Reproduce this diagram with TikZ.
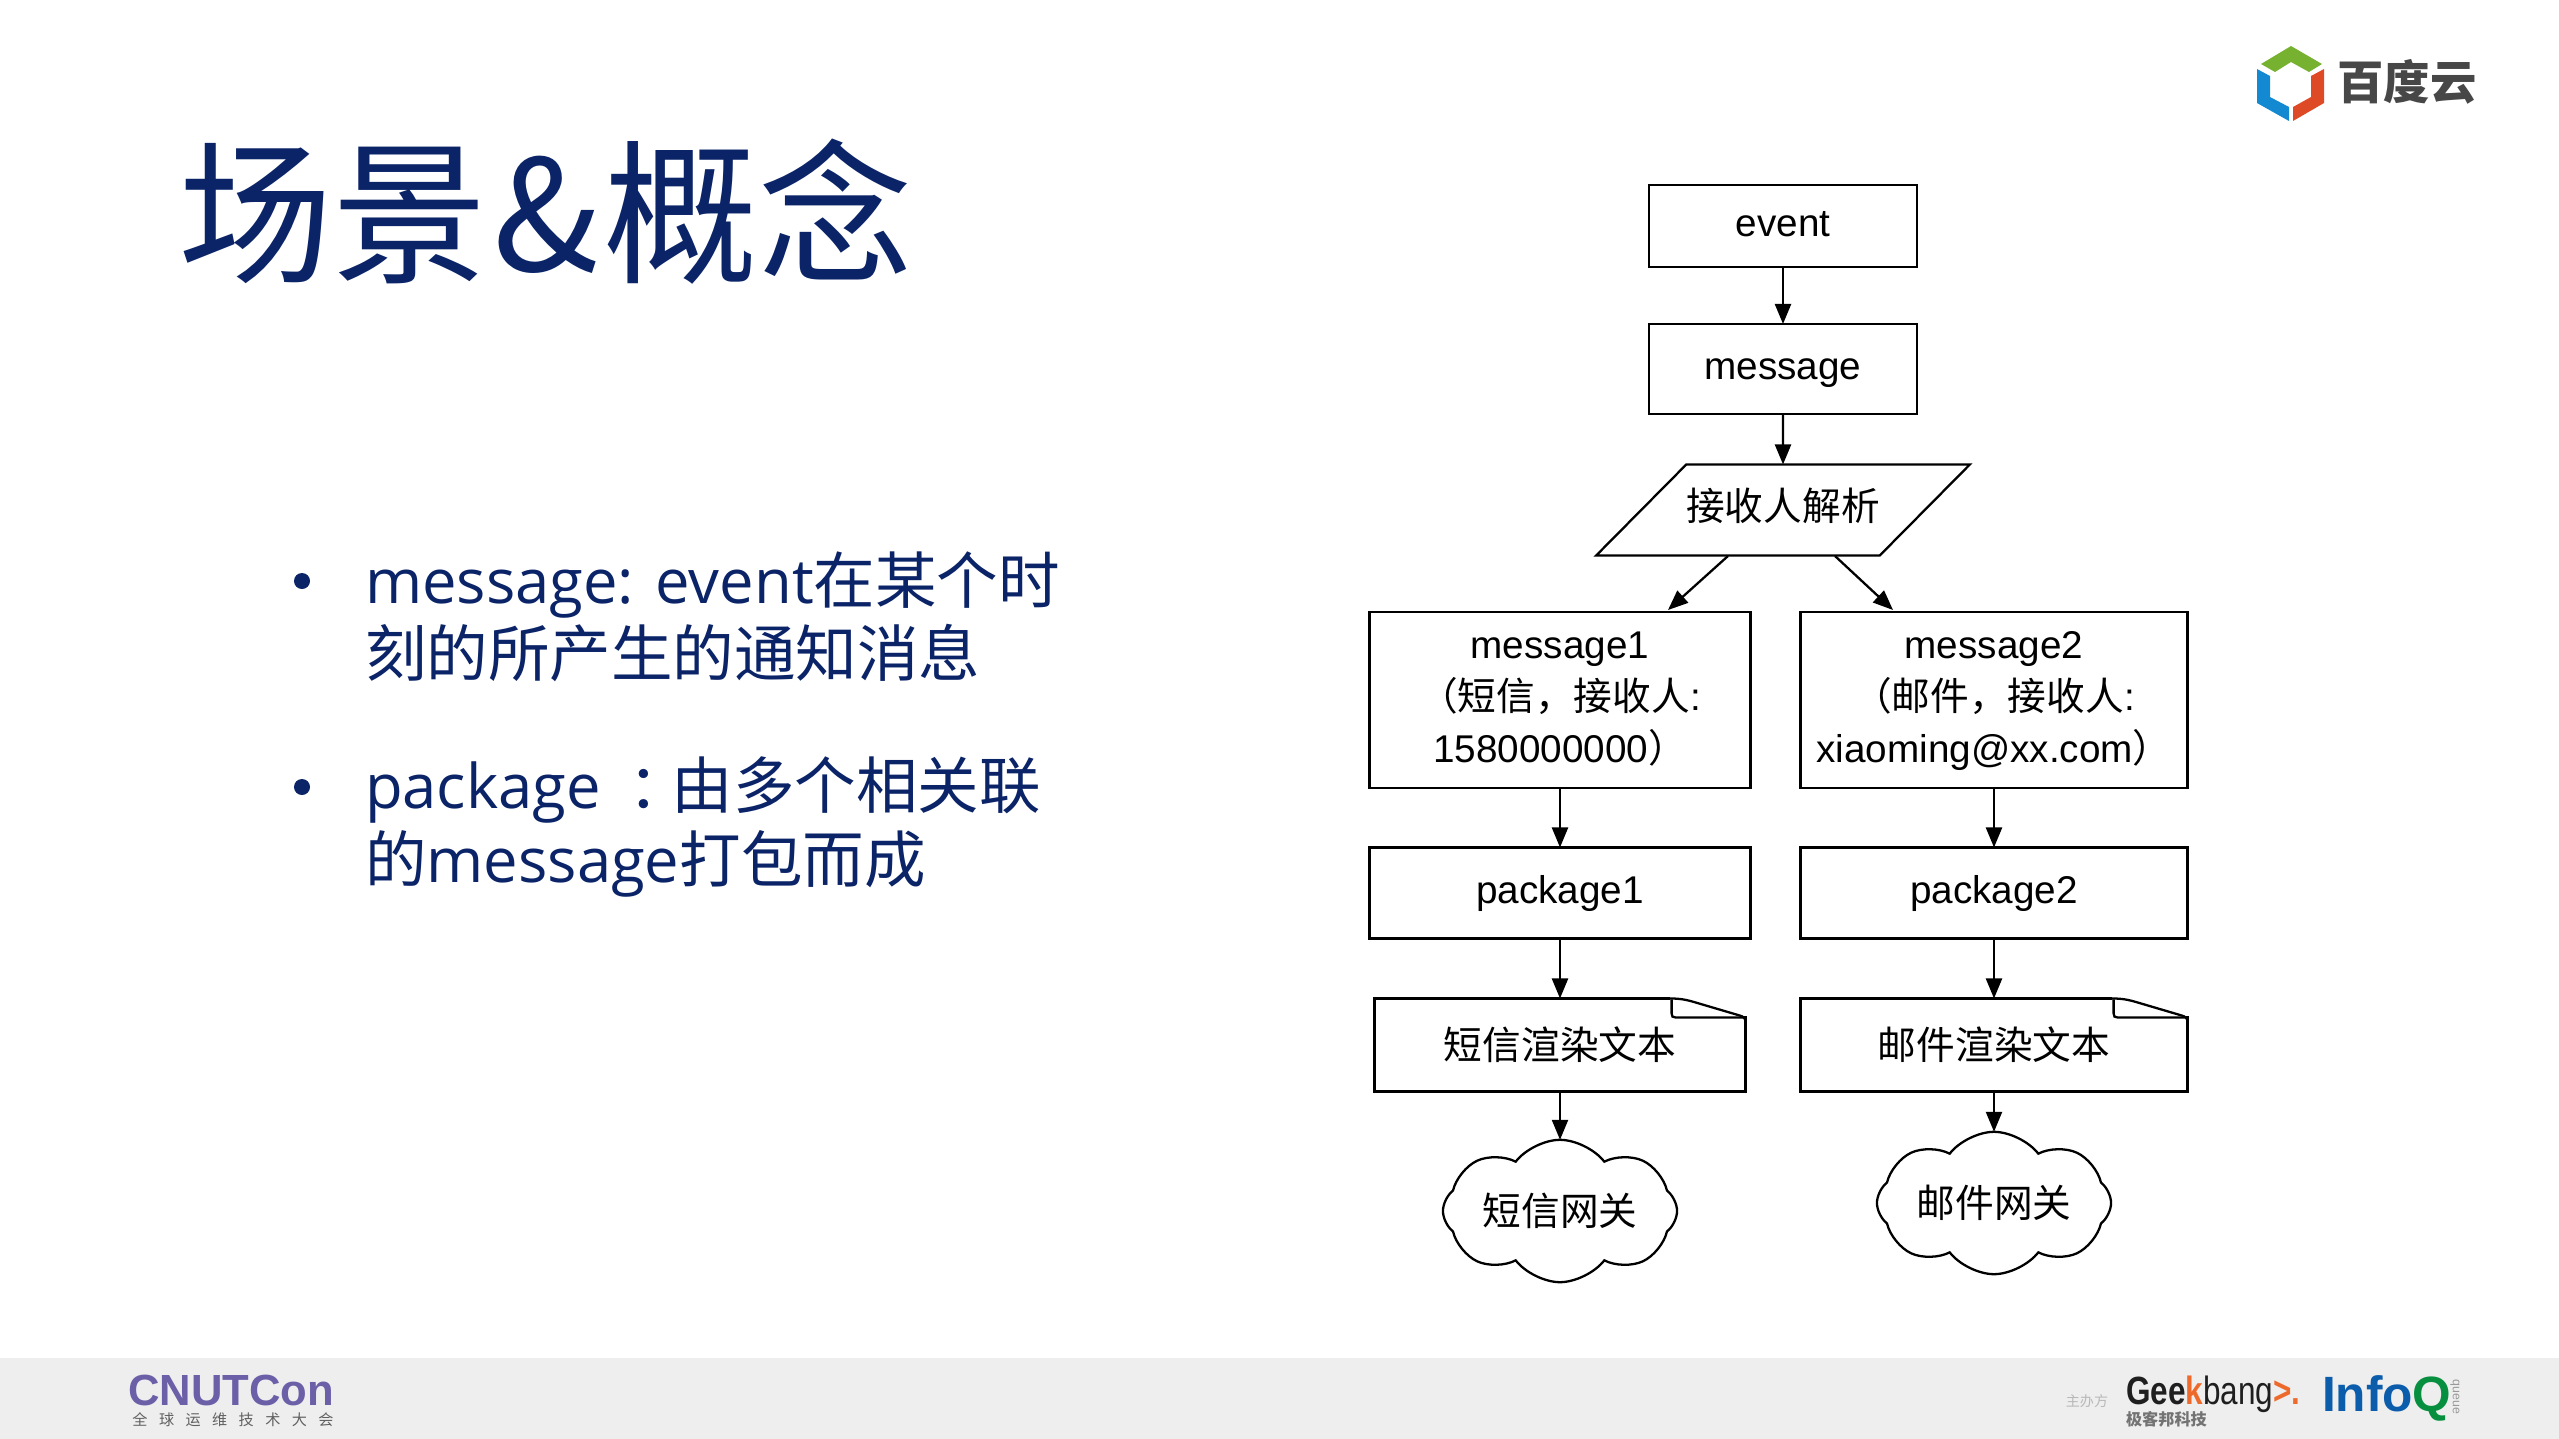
\documentclass[tikz,border=0pt]{standalone}
\usepackage{fontspec}
\setmainfont{Noto Sans CJK SC}
\newfontfamily\helv{Liberation Sans}
\newfontfamily\opensans{Open Sans}
\usetikzlibrary{arrows.meta,shapes.geometric,shapes.symbols}
\definecolor{slidenavy}{HTML}{0B2468}
\definecolor{barfill}{HTML}{EEEEEE}
\definecolor{logogreen}{HTML}{76B12F}
\definecolor{logoblue}{HTML}{1289D0}
\definecolor{logored}{HTML}{DE4A26}
\definecolor{cnutpurple}{HTML}{6B5FA8}
\definecolor{geekorange}{HTML}{EE6A2B}
\definecolor{infoblue}{HTML}{0B5CAB}
\definecolor{infogreen}{HTML}{078F40}
\tikzset{
	every node/.style={inner sep=0pt,outer sep=0pt},
	chartbox/.style={draw,line width=0.65pt,fill=white,font=\fontsize{11}{14.8}\selectfont,align=center},
	leftbox/.style={chartbox,minimum width=3.81cm},
	rightbox/.style={chartbox,minimum width=3.87cm},
	gateway/.style={cloud,draw,line width=0.65pt,cloud puffs=8,cloud puff arc=105,aspect=2,
		minimum width=2.34cm,minimum height=1.08cm,font=\fontsize{11}{14.8}\selectfont},
	flow/.style={line width=0.65pt,-{Triangle[length=0.2cm,width=0.16cm]}},
	bulletdot/.style={circle,fill=slidenavy,minimum size=0.16cm},
	bullettext/.style={anchor=west,align=left,text=slidenavy,font=\fontsize{17.5}{20.8}\selectfont}
}
\begin{document}
\begin{tikzpicture}[x=0.01cm,y=-0.01cm]
	\useasboundingbox (0,0) rectangle (2559,1439);
	\fill[barfill] (0,1358) rectangle (2559,1439);

	\node[anchor=west,text=slidenavy,font=\fontsize{44}{44}\selectfont] (title) at (178,212) {场景\hspace{1.6pt}\&\hspace{1.6pt}概念};

	\node[bulletdot] (dot1) at (302,581) {};
	\node[bullettext] (point1) at (365,617) {{\opensans message: event}在某个时\\刻的所产生的通知消息};
	\node[bulletdot] (dot2) at (302,787) {};
	\node[bullettext] (point2) at (365,827) {{\opensans package}\hspace{.45em}：\hspace{-.3em}由多个相关联\\的{\opensans message}打包而成};

	% flow chart
	\node[chartbox,minimum width=2.68cm,minimum height=0.82cm] (event) at (1783,226) {\helv\strut event};
	\node[chartbox,minimum width=2.68cm,minimum height=0.9cm] (message) at (1783,369) {\helv\strut message};
	\node[chartbox,trapezium,trapezium stretches=true,trapezium left angle=30,trapezium right angle=150,
		minimum width=3.59cm,minimum height=0.91cm] (receiver) at (1783,510) {\strut 接收人解析};

	\node[leftbox,minimum height=1.76cm] (message1) at (1560,700) {{\helv\strut message1}\\（短信，接收人{\helv :}\\{\helv 1580000000}）\strut};
	\node[rightbox,minimum height=1.76cm] (message2) at (1994,700) {{\helv\strut message2}\\（邮件，接收人{\helv :}\\{\helv xiaoming@xx.com}）\strut};
	\node[leftbox,minimum height=0.91cm] (package1) at (1560,893) {\helv\strut package1};
	\node[rightbox,minimum height=0.91cm] (package2) at (1994,893) {\helv\strut package2};
	\node[chartbox,minimum width=3.71cm,minimum height=0.93cm] (render1) at (1560,1045) {短信渲染文本};
	\node[rightbox,minimum height=0.93cm] (render2) at (1994,1045) {邮件渲染文本};
	\node[gateway] (gate1) at (1560,1211) {短信网关};
	\node[gateway,minimum height=1.23cm] (gate2) at (1994,1203) {邮件网关};

	% folded corners
	\foreach \docname in {render1,render2}{
		\fill[white,shift={(\docname.north east)}] (-76,-3) rectangle (3,18);
		\draw[line width=0.65pt,shift={(\docname.north east)}]
			(-90,0) -- (-76,0) .. controls (-66,0) and (-60,1) .. (-50,4) -- (-6,17) .. controls (-2,18) and (0,20) .. (0,24);
		\draw[line width=0.65pt,shift={(\docname.north east)}]
			(-74,1) -- (-74,15) .. controls (-74,18) and (-73,19) .. (-70,19) -- (-1,19);
	}

	\coordinate (receiverleft) at (1728,556);
	\coordinate (receiverright) at (1835,556);
	\coordinate (message1top) at (1668,610);
	\coordinate (message2top) at (1893,610);

	\draw[flow] (event) -- (message);
	\draw[flow] (message) -- (receiver);
	\draw[flow] (receiverleft) -- (message1top);
	\draw[flow] (receiverright) -- (message2top);
	\draw[flow] (message1) -- (package1);
	\draw[flow] (message2) -- (package2);
	\draw[flow] (package1) -- (render1);
	\draw[flow] (package2) -- (render2);
	\draw[flow] (render1) -- (gate1);
	\draw[flow] (render2) -- (gate2);

	% top right logo
	\fill[logogreen] (2291,46) -- (2322,64) -- (2309,72) -- (2291,62) -- (2275,72) -- (2261,64) -- cycle;
	\fill[logoblue] (2257,69) -- (2270,76) -- (2270,97) -- (2289,107) -- (2289,121) -- (2257,103) -- cycle;
	\fill[logored] (2324,69) -- (2311,76) -- (2311,97) -- (2293,107) -- (2293,121) -- (2324,103) -- cycle;
	\node[text=black!72,font=\fontsize{13.2}{13.2}\selectfont\bfseries] (brand) at (2407,82) {百度云};

	% footer logos
	\node[text=cnutpurple,font=\helv\fontsize{12.4}{12.4}\selectfont\bfseries] (cnutcon) at (231,1390) {CNUTCon};
	\node[text=black!62,font=\fontsize{4.3}{4.3}\selectfont] (cnutconsub) at (233,1420)
		{\makebox[2.01cm][s]{全\hfill 球\hfill 运\hfill 维\hfill 技\hfill 术\hfill 大\hfill 会}};
	\node[text=black!28,font=\fontsize{4}{4}\selectfont] (host) at (2087,1401) {主办方};
	\node[anchor=west,text=black!88,font=\helv\fontsize{11.2}{11.2}\selectfont] (geekbang) at (2126,1394)
		{\scalebox{0.8}[1]{\textbf{Gee}{\bfseries\color{geekorange}k}bang{\bfseries\color{geekorange}>.}}};
	\node[anchor=west,text=black!55,font=\fontsize{4.6}{4.6}\selectfont\bfseries] (geeksub) at (2126,1419) {极客邦科技};
	\node[anchor=west,text=infoblue,font=\helv\fontsize{14.1}{14.1}\selectfont\bfseries] (infoq) at (2322,1398)
		{Info{\color{infogreen}Q}};
	\node[rotate=-90,text=black!40,font=\helv\fontsize{3.5}{3.5}\selectfont] (queue) at (2455,1397) {queue};
\end{tikzpicture}
\end{document}
